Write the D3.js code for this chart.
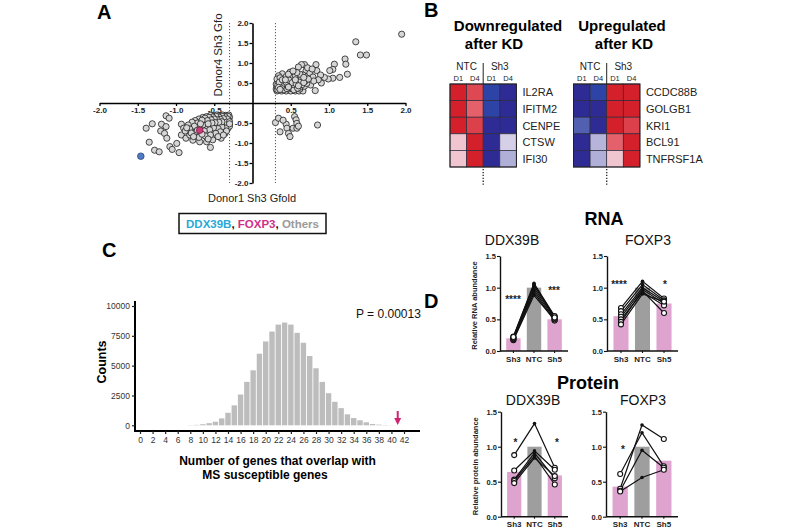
<!DOCTYPE html>
<html><head><meta charset="utf-8">
<script src="https://cdn.jsdelivr.net/npm/d3@7"></script>
<style>body{margin:0;background:#fff} svg{font-family:"Liberation Sans", Arial, sans-serif; display:block}</style>
</head><body><svg id="c" width="800" height="530"></svg>
<script>
// ---------------- DATA ----------------
// Panel A: Gfold scatter (Donor1 Sh3 vs Donor4 Sh3)
const othersUp = [
[1.95,1.72],[1.35,1.53],[1.41,1.2],[1.49,1.2],[1.21,1.1],[1.22,0.97],[1.07,0.97],[1.05,0.84],[1.01,0.81],[1.24,0.72],[1.14,0.64],[1.05,0.62],[0.99,0.6],[0.94,0.64],[0.84,0.81],[0.83,0.96],[0.89,0.7],[0.82,0.31],[0.9,0.5],[0.76,0.45],[0.68,0.96],[0.64,0.96],[0.7,0.81],[0.66,0.7],[0.75,0.75],[0.79,0.65],[0.49,0.77],[0.39,0.73],[0.34,0.68],[0.55,0.6],[0.86,0.58],[0.8,0.55],[0.72,0.88],[0.6,0.9],[0.78,0.85],
[0.32,0.3],[0.38,0.3],[0.44,0.3],[0.5,0.3],[0.56,0.3],[0.61,0.3],[0.66,0.3],
[0.31,0.35],[0.35,0.36],[0.39,0.34],[0.43,0.37],[0.47,0.35],[0.52,0.36],[0.57,0.38],[0.62,0.35],
[0.32,0.41],[0.36,0.43],[0.4,0.4],[0.44,0.42],[0.48,0.44],[0.53,0.41],[0.58,0.43],[0.63,0.4],[0.68,0.42],
[0.31,0.47],[0.34,0.5],[0.38,0.48],[0.42,0.46],[0.46,0.49],[0.5,0.47],[0.55,0.5],[0.6,0.48],[0.65,0.46],[0.71,0.49],
[0.33,0.54],[0.37,0.56],[0.41,0.53],[0.45,0.55],[0.49,0.52],[0.53,0.56],[0.58,0.54],[0.63,0.57],[0.69,0.55],
[0.32,0.6],[0.36,0.63],[0.42,0.59],[0.47,0.61],[0.52,0.64],[0.59,0.62],[0.64,0.6],[0.73,0.6],
[0.35,0.45],[0.4,0.38],[0.45,0.39],[0.51,0.42],[0.56,0.45],[0.61,0.52],[0.67,0.51],
[0.44,0.66],[0.56,0.68],[0.62,0.72],[0.47,0.72],[0.58,0.76],[0.53,0.8],[0.67,0.64],
[0.33,0.33],[0.37,0.39],[0.41,0.33],[0.45,0.36],[0.49,0.39],[0.54,0.33],[0.33,0.44],[0.38,0.42],[0.42,0.49],[0.46,0.43],[0.5,0.5],[0.54,0.46],[0.35,0.52],[0.39,0.58],[0.44,0.52],[0.48,0.57],[0.52,0.51],[0.57,0.48],[0.34,0.39],[0.47,0.4],[0.59,0.37],[0.36,0.34],[0.43,0.58],[0.56,0.58],[0.6,0.43]
];
const othersDown = [
[-1.39,-0.63],[-1.31,-0.52],[-1.35,-0.98],[-1.28,-1.18],[-1.22,-1.22],[-1.19,-0.53],[-1.2,-0.7],[-1.13,-0.32],[-1.09,-0.38],[-1.13,-0.59],[-1.15,-0.76],[-1.12,-0.88],[-1.08,-1.09],[-1.05,-1.16],[-0.96,-1.24],[-0.99,-1.01],[-0.93,-0.53],[-0.93,-0.8],[-0.87,-0.88],[-0.9,-0.63],[-0.82,-0.8],[-0.55,-1.11],[-0.41,-0.88],[-0.52,-0.92],[-0.6,-0.97],[-0.36,-0.76],[-0.32,-0.63],[-0.69,-0.97],[-0.78,-0.93],
[-0.31,-0.3],[-0.35,-0.31],[-0.39,-0.3],[-0.43,-0.32],[-0.47,-0.3],[-0.51,-0.33],[-0.55,-0.31],[-0.6,-0.34],[-0.65,-0.36],
[-0.3,-0.36],[-0.33,-0.38],[-0.37,-0.35],[-0.41,-0.37],[-0.45,-0.39],[-0.49,-0.36],[-0.53,-0.38],[-0.58,-0.4],[-0.63,-0.42],[-0.7,-0.4],[-0.75,-0.44],
[-0.31,-0.43],[-0.35,-0.45],[-0.39,-0.42],[-0.43,-0.44],[-0.47,-0.46],[-0.51,-0.43],[-0.56,-0.47],[-0.61,-0.49],[-0.67,-0.47],[-0.72,-0.5],[-0.79,-0.48],[-0.84,-0.55],
[-0.33,-0.51],[-0.37,-0.53],[-0.42,-0.5],[-0.46,-0.55],[-0.5,-0.52],[-0.55,-0.56],[-0.6,-0.58],[-0.65,-0.55],[-0.7,-0.6],[-0.76,-0.58],[-0.82,-0.65],[-0.88,-0.7],
[-0.3,-0.58],[-0.35,-0.62],[-0.4,-0.6],[-0.45,-0.64],[-0.51,-0.62],[-0.56,-0.67],[-0.63,-0.7],[-0.74,-0.72],[-0.8,-0.75],[-0.86,-0.62],
[-0.34,-0.7],[-0.42,-0.72],[-0.48,-0.76],[-0.55,-0.8],[-0.62,-0.82],[-0.7,-0.86],[-0.77,-0.84],[-0.45,-0.84],[-0.38,-0.8],[-0.58,-0.9],[-0.66,-0.78],[-0.72,-0.68],
[-0.32,-0.33],[-0.36,-0.34],[-0.4,-0.33],[-0.44,-0.35],[-0.48,-0.33],[-0.52,-0.35],[-0.57,-0.36],[-0.62,-0.38],[-0.33,-0.4],[-0.38,-0.39],[-0.42,-0.41],[-0.46,-0.42],[-0.5,-0.4],[-0.54,-0.42],[-0.59,-0.44],[-0.66,-0.43],[-0.34,-0.48],[-0.4,-0.47],[-0.44,-0.48],[-0.49,-0.49],[-0.53,-0.5],[-0.58,-0.52],[-0.68,-0.52],[-0.3,-0.47],[-0.3,-0.52]
];
const othersMixed = [
[0.3,-0.49],[0.34,-0.38],[0.36,-0.72],[0.44,-0.53],[0.45,-0.63],[0.47,-0.76],[0.49,-0.84],[0.53,-0.63],[0.55,-0.34],[0.57,-0.42],[0.58,-0.63],[0.58,-0.51],[0.4,-0.43],[0.85,-0.55],[0.6,-0.58]
];
const ddx39bPoint = [-1.46,-1.33];
const foxp3Point = [-0.69,-0.68];
const axisTicksA = [-2,-1.5,-1,-0.5,0.5,1,1.5,2];

// Panel B: heatmaps (row-scaled expression)
const heatColumns = ["NTC D1","NTC D4","Sh3 D1","Sh3 D4"];
const downGenes = ["IL2RA","IFITM2","CENPE","CTSW","IFI30"];
const downValues = [
[1.0, 0.75,-0.85,-1.0],
[1.0, 0.6,-0.85,-1.0],
[1.0, 0.8,-1.0,-1.0],
[0.15,1.0,-1.0,-0.1],
[0.15,1.0,-1.0,-0.22]
];
const upGenes = ["CCDC88B","GOLGB1","KRI1","BCL91","TNFRSF1A"];
const upValues = [
[-1.0,-0.85,1.0,1.0],
[-1.0,-1.0,1.0,1.0],
[-0.55,-1.0,1.0,0.8],
[-1.0,-0.2,0.6,1.0],
[-1.0,-0.22,0.15,1.0]
];

// Panel C: permutation histogram
const overlapValues = d3.range(0,43);
const overlapCounts = [0,0,0,0,0,0,0,0,15,35,90,180,300,580,1050,1670,2580,3640,4610,6000,7030,7860,8440,8610,8440,7750,6920,5810,4780,3640,2690,1970,1440,920,610,420,250,110,55,25,10,5,0];
const observedOverlap = 41;
const histTicksX = d3.range(0,43,2);
const histTicksY = [0,2500,5000,7500,10000];

// Panel D
const conditions = ["Sh3","NTC","Sh5"];
const rnaDdxBars = [0.2,1.0,0.5];
const rnaDdxDonors = [[0.17,0.88,0.49],[0.18,0.92,0.48],[0.19,0.96,0.5],[0.2,1.0,0.52],[0.21,1.04,0.54],[0.23,1.07,0.55],[0.22,1.05,0.53]];
const rnaFoxBars = [0.55,1.0,0.75];
const rnaFoxDonors = [[0.68,1.1,0.83],[0.63,1.05,0.8],[0.58,1.0,0.78],[0.54,0.97,0.75],[0.5,0.93,0.72],[0.46,0.95,0.6],[0.42,0.9,0.78]];
const protDdxBars = [0.64,1.0,0.59];
const protDdxDonors = [[0.88,1.33,0.70],[0.66,0.94,0.67],[0.53,0.91,0.55],[0.51,0.87,0.46],[0.48,0.84,0.58]];
const protFoxBars = [0.43,1.0,0.8];
const protFoxDonors = [[0.40,1.31,1.11],[0.61,1.20,0.72],[0.37,0.95,0.70],[0.36,0.56,0.67]];
const yTicksD = [0,0.5,1.0,1.5];

// ---------------- DRAW ----------------
const svg = d3.select("#c");
const fmt1 = d => d.toFixed(1);

function panelLetter(t,x,y){
  svg.append("text").attr("x",x).attr("y",y).attr("font-size",20).attr("font-weight","bold").text(t);
}
panelLetter("A",97,19);
panelLetter("B",424,17);
panelLetter("C",102,257);
panelLetter("D",424,308);

// ---- Panel A ----
(function(){
  const xA = d3.scaleLinear().domain([-2,2]).range([99.5,405.5]);
  const yA = d3.scaleLinear().domain([-2,2]).range([183,23]);
  const g = svg.append("g");
  [-0.3,0.3].forEach(v=>{
    g.append("line").attr("x1",xA(v)).attr("x2",xA(v)).attr("y1",yA(2)).attr("y2",yA(-2))
      .attr("stroke","#555").attr("stroke-width",1).attr("stroke-dasharray","1.2,1.8");
  });
  const ax = g.append("g").attr("transform",`translate(0,${yA(0)})`)
    .call(d3.axisBottom(xA).tickValues(axisTicksA).tickSize(3).tickSizeOuter(0).tickFormat(fmt1));
  const ay = g.append("g").attr("transform",`translate(${xA(0)},0)`)
    .call(d3.axisLeft(yA).tickValues(axisTicksA).tickSize(3).tickSizeOuter(0).tickFormat(fmt1));
  [ax,ay].forEach(a=>{
    a.select(".domain").attr("stroke","#000").attr("stroke-width",1.6);
    a.selectAll(".tick line").attr("stroke","#000").attr("stroke-width",1.3);
    a.selectAll(".tick text").attr("font-size",8).attr("font-weight","bold").attr("fill","#222").attr("font-family","Liberation Sans, Arial");
  });
  ax.selectAll(".tick text").attr("dy","0.9em").attr("y",3);
  ay.selectAll(".tick text").attr("x",-4);
  const pts = othersUp.concat(othersDown, othersMixed);
  g.selectAll("circle.o").data(pts).enter().append("circle")
    .attr("cx",d=>xA(d[0])).attr("cy",d=>yA(d[1])).attr("r",3.1)
    .attr("fill","#d6d6d6").attr("stroke","#1e1e1e").attr("stroke-width",0.8);
  g.append("circle").attr("cx",xA(foxp3Point[0])).attr("cy",yA(foxp3Point[1])).attr("r",3.3)
    .attr("fill","#cc3a78").attr("stroke","#7a2048").attr("stroke-width",0.8);
  g.append("circle").attr("cx",xA(ddx39bPoint[0])).attr("cy",yA(ddx39bPoint[1])).attr("r",3.3)
    .attr("fill","#4f7bc0").attr("stroke","#2c4a7c").attr("stroke-width",0.8);
  g.append("text").attr("x",252).attr("y",202).attr("text-anchor","middle").attr("font-size",11).attr("fill","#222").text("Donor1 Sh3 Gfold");
  g.append("text").attr("transform","translate(222,55) rotate(-90)").attr("text-anchor","middle").attr("font-size",11.5).attr("fill","#222").text("Donor4 Sh3 Gfo");
  g.append("rect").attr("x",179).attr("y",213.5).attr("width",147).attr("height",20).attr("fill","none").attr("stroke","#111").attr("stroke-width",1.5);
  const lt = g.append("text").attr("x",252.5).attr("y",227.5).attr("text-anchor","middle").attr("font-size",11.5).attr("font-weight","bold");
  lt.append("tspan").attr("fill","#29a8d8").text("DDX39B");
  lt.append("tspan").attr("fill","#111").text(", ");
  lt.append("tspan").attr("fill","#d0308a").text("FOXP3");
  lt.append("tspan").attr("fill","#111").text(", ");
  lt.append("tspan").attr("fill","#9a9a9a").text("Others");
})();

// ---- Panel B ----
const heatColor = d3.scaleLinear().domain([-1,-0.8,-0.5,0,0.5,1])
  .range(["#2e2c94","#2c4aaa","#5a64b4","#f4eaf4","#e8707a","#d4202a"]);
function heatmap(x0, y0, genes, values, title1, t1x, t2x){
  const g = svg.append("g");
  const cw = 16.6, ch = 16.6;
  const xs = d3.scaleBand().domain(heatColumns).range([x0, x0+cw*4]);
  const ys = d3.scaleBand().domain(genes).range([y0, y0+ch*5]);
  g.append("text").attr("x",t1x).attr("y",31).attr("text-anchor","middle").attr("font-size",15).attr("font-weight","bold").text(title1);
  g.append("text").attr("x",t2x).attr("y",49).attr("text-anchor","middle").attr("font-size",15).attr("font-weight","bold").text("after KD");
  genes.forEach((gene,i)=>{
    heatColumns.forEach((c,j)=>{
      g.append("rect").attr("x",xs(c)).attr("y",ys(gene)).attr("width",xs.bandwidth()).attr("height",ys.bandwidth())
        .attr("fill",heatColor(values[i][j])).attr("stroke","#2a2a3a").attr("stroke-width",0.7);
    });
    g.append("text").attr("x",x0+cw*4+6).attr("y",ys(gene)+ys.bandwidth()/2+4).attr("font-size",11).attr("fill","#222").text(gene);
  });
  g.append("rect").attr("x",x0).attr("y",y0).attr("width",cw*4).attr("height",ch*5).attr("fill","none").attr("stroke","#222").attr("stroke-width",1);
  const mid = x0+cw*2;
  g.append("text").attr("x",x0+cw).attr("y",70).attr("text-anchor","middle").attr("font-size",10).attr("fill","#222").text("NTC");
  g.append("text").attr("x",x0+cw*3).attr("y",70).attr("text-anchor","middle").attr("font-size",10).attr("fill","#222").text("Sh3");
  heatColumns.forEach(c=>{
    g.append("text").attr("x",xs(c)+cw/2).attr("y",81).attr("text-anchor","middle").attr("font-size",7.5).attr("fill","#222").text(c.split(" ")[1]);
  });
  g.append("line").attr("x1",mid).attr("x2",mid).attr("y1",63).attr("y2",y0).attr("stroke","#222").attr("stroke-width",1);
  g.append("line").attr("x1",mid).attr("x2",mid).attr("y1",y0+ch*5+2).attr("y2",y0+ch*5+19).attr("stroke","#333").attr("stroke-width",1.4).attr("stroke-dasharray","1.3,1.6");
}
heatmap(450, 84, downGenes, downValues, "Downregulated", 508, 494);
heatmap(573.5, 84, upGenes, upValues, "Upregulated", 622, 624);

// ---- Panel C ----
(function(){
  const g = svg.append("g");
  const xC = d3.scaleLinear().domain([0,42]).range([140,404]);
  const yC = d3.scaleLinear().domain([0,10000]).range([425.3,306]);
  const bw = 5.4;
  g.selectAll("rect.h").data(overlapValues).enter().append("rect")
    .attr("x",d=>xC(d)-bw/2).attr("width",bw)
    .attr("y",(d,i)=>yC(overlapCounts[i])).attr("height",(d,i)=>yC(0)-yC(overlapCounts[i]))
    .attr("fill","#bdbdbd");
  const ax = g.append("g").attr("transform","translate(0,431)")
    .call(d3.axisBottom(xC).tickValues(histTicksX).tickSize(3).tickSizeOuter(0).tickFormat(d3.format("d")));
  ax.select(".domain").attr("d","M135,0H420");
  const ay = g.append("g").attr("transform","translate(135,0)")
    .call(d3.axisLeft(yC).tickValues(histTicksY).tickSize(3).tickSizeOuter(0).tickFormat(d3.format("d")));
  ay.select(".domain").attr("d","M0,301V432");
  [ax,ay].forEach(a=>{
    a.select(".domain").attr("stroke","#000").attr("stroke-width",2);
    a.selectAll(".tick line").attr("stroke","#222").attr("stroke-width",1.2);
    a.selectAll(".tick text").attr("font-size",8.5).attr("fill","#333").attr("font-family","Liberation Sans, Arial");
  });
  ay.selectAll(".tick text").attr("x",-5);
  const ax0 = xC(observedOverlap);
  g.append("line").attr("x1",ax0).attr("x2",ax0).attr("y1",411).attr("y2",420).attr("stroke","#d0246e").attr("stroke-width",2);
  g.append("path").attr("d",`M${ax0-3.5},418 L${ax0+3.5},418 L${ax0},425 Z`).attr("fill","#d0246e");
  g.append("text").attr("x",356).attr("y",317.5).attr("font-size",12).attr("fill","#111").text("P = 0.00013");
  g.append("text").attr("transform","translate(106,362) rotate(-90)").attr("text-anchor","middle").attr("font-size",12.5).attr("font-weight","bold").text("Counts");
  g.append("text").attr("x",277.5).attr("y",465).attr("text-anchor","middle").attr("font-size",12).attr("font-weight","bold").text("Number of genes that overlap with");
  g.append("text").attr("x",265).attr("y",478.5).attr("text-anchor","middle").attr("font-size",12).attr("font-weight","bold").text("MS susceptible genes");
})();

// ---- Panel D ----
const barFill = {Sh3:"#dea3cf", NTC:"#9e9e9e", Sh5:"#dea3cf"};
function dotBar(o){
  const g = svg.append("g");
  const xs = d3.scaleBand().domain(conditions).range([o.x0,o.x1]).paddingInner(0.3).paddingOuter(0.3);
  const ys = d3.scaleLinear().domain([0,1.5]).range([o.y0,o.y1]);
  const cx = c => xs(c)+xs.bandwidth()/2;
  g.selectAll("rect").data(conditions).enter().append("rect")
    .attr("x",d=>xs(d)).attr("width",xs.bandwidth())
    .attr("y",(d,i)=>ys(o.bars[i])).attr("height",(d,i)=>ys(0)-ys(o.bars[i]))
    .attr("fill",d=>barFill[d]);
  const line = d3.line().x((v,i)=>cx(conditions[i])).y(v=>ys(v));
  o.donors.forEach(dn=>{
    g.append("path").attr("d",line(dn)).attr("fill","none").attr("stroke","#111").attr("stroke-width",1.2);
  });
  o.donors.forEach(dn=>{
    dn.forEach((v,i)=>{
      if(conditions[i]==="NTC"){
        g.append("circle").attr("cx",cx("NTC")).attr("cy",ys(v)).attr("r",1.8).attr("fill","#111");
      } else {
        g.append("circle").attr("cx",cx(conditions[i])).attr("cy",ys(v)).attr("r",2.5).attr("fill","#fff").attr("stroke","#111").attr("stroke-width",1.1);
      }
    });
  });
  const ay = g.append("g").attr("transform",`translate(${o.x0},0)`)
    .call(d3.axisLeft(ys).tickValues(yTicksD).tickSize(3).tickSizeOuter(0).tickFormat(fmt1));
  const ax = g.append("g").attr("transform",`translate(0,${o.y0})`)
    .call(d3.axisBottom(xs).tickSize(2).tickSizeOuter(0));
  ax.select(".domain").attr("d",`M${o.x0},0H${o.x1}`);
  [ax,ay].forEach(a=>{
    a.select(".domain").attr("stroke","#111").attr("stroke-width",1.4);
    a.selectAll(".tick line").attr("stroke","#111").attr("stroke-width",1.1);
    a.selectAll(".tick text").attr("font-size",7.5).attr("font-weight","bold").attr("fill","#222").attr("font-family","Liberation Sans, Arial");
  });
  ax.selectAll(".tick text").attr("font-size",8).attr("y",5);
  ay.selectAll(".tick text").attr("x",-4);
  if(o.ylabel){
    g.append("text").attr("transform",`translate(${o.x0-23},${(o.y0+o.y1)/2+2}) rotate(-90)`).attr("text-anchor","middle")
      .attr("font-size",7.5).attr("font-weight","bold").attr("fill","#222").text(o.ylabel);
  }
  g.append("text").attr("x",o.tx).attr("y",o.ty).attr("text-anchor","middle").attr("font-size",14).attr("fill","#111").text(o.title);
  o.stars.forEach(s=>{
    g.append("text").attr("x",s[0]).attr("y",s[1]).attr("text-anchor","middle").attr("font-size",10).attr("font-weight","bold").attr("fill","#222").text(s[2]);
  });
}
svg.append("text").attr("x",604).attr("y",225).attr("text-anchor","middle").attr("font-size",18).attr("font-weight","bold").text("RNA");
svg.append("text").attr("x",588).attr("y",389).attr("text-anchor","middle").attr("font-size",18).attr("font-weight","bold").text("Protein");
dotBar({x0:500,x1:568,y0:351,y1:256,bars:rnaDdxBars,donors:rnaDdxDonors,ylabel:"Relative RNA abundance",title:"DDX39B",tx:512,ty:245,
  stars:[[513,303,"****"],[554,294,"***"]]});
dotBar({x0:607,x1:678,y0:351,y1:256,bars:rnaFoxBars,donors:rnaFoxDonors,ylabel:null,title:"FOXP3",tx:648,ty:245,
  stars:[[619,288,"****"],[665,288,"*"]]});
dotBar({x0:501,x1:568,y0:516.7,y1:411.7,bars:protDdxBars,donors:protDdxDonors,ylabel:"Relative protein abundance",title:"DDX39B",tx:533,ty:405,
  stars:[[515.5,446,"*"],[557,446,"*"]]});
dotBar({x0:606,x1:678,y0:516.7,y1:411.7,bars:protFoxBars,donors:protFoxDonors,ylabel:null,title:"FOXP3",tx:643,ty:405,
  stars:[[623,453,"*"]]});
</script></body></html>
